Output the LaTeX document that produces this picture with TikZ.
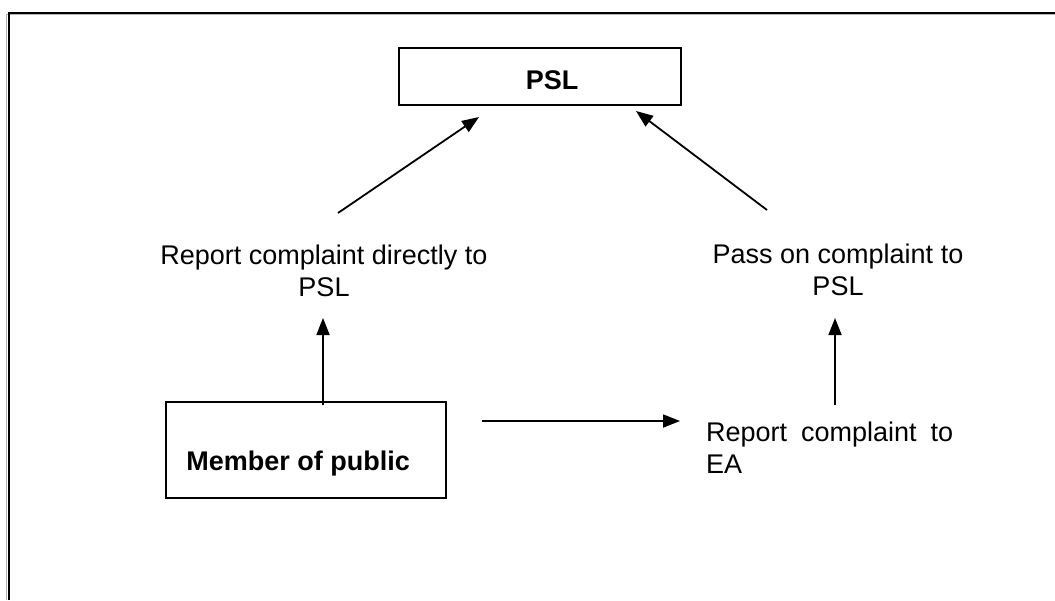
\documentclass[tikz,border=0pt]{standalone}
\usepackage{fontspec}
\setmainfont{Liberation Sans}
\usetikzlibrary{arrows.meta,positioning,calc}

\tikzset{
  box/.style={draw, line width=1.8pt, inner sep=0pt},
  link/.style={line width=1.8pt, -{Triangle[length=17pt,width=13pt]}},
  lbl/.style={inner sep=0pt, align=center}
}

\begin{document}
\begin{tikzpicture}[x=1pt, y=-1pt, font=\fontsize{27}{32}\selectfont]
\useasboundingbox (0,0) rectangle (1055,600);
% outer frame, only top and left edges show
\draw[gray!60, line width=1.2pt] (6.5,600) -- (6.5,14.5) -- (1055,14.5);
\draw[line width=2pt] (8.5,600) -- (8.5,12.5) -- (1055,12.5);

% boxes
\node[box, minimum width=282pt, minimum height=57pt] (psl) at (540,76.5) {};
\node[anchor=base] (psltext) at (552,89) {\bfseries PSL};
\node[box, minimum width=280pt, minimum height=96pt] (member) at (306,450) {};
\node[anchor=base west, inner sep=0pt] (membertext) at ($(member.south west)+(21,-28)$) {\bfseries Member of public};

% labels
\node[lbl] (direct) at (324,271) {Report complaint directly to\\PSL};
\node[lbl] (pass) at (838,270) {Pass on complaint to\\PSL};
\node[lbl, anchor=north west, align=left] (toea) at (706,422)
  {\hbox to 247pt{Report\hfill complaint\hfill to}\\EA};

% arrow ends
\coordinate (d1) at (338,213);
\coordinate (d2) at (479,117);
\coordinate (p1) at (767,210);
\coordinate (p2) at (636,111);
\coordinate (u1) at (323,405);
\coordinate (u2) at (323,318);
\coordinate (h1) at (482,421);
\coordinate (h2) at (680,421);
\coordinate (v1) at (835,405);
\coordinate (v2) at (835,318);

\draw[link] (d1) -- (d2);
\draw[link] (p1) -- (p2);
\draw[link] (u1) -- (u2);
\draw[link] (h1) -- (h2);
\draw[link] (v1) -- (v2);
\end{tikzpicture}
\end{document}
